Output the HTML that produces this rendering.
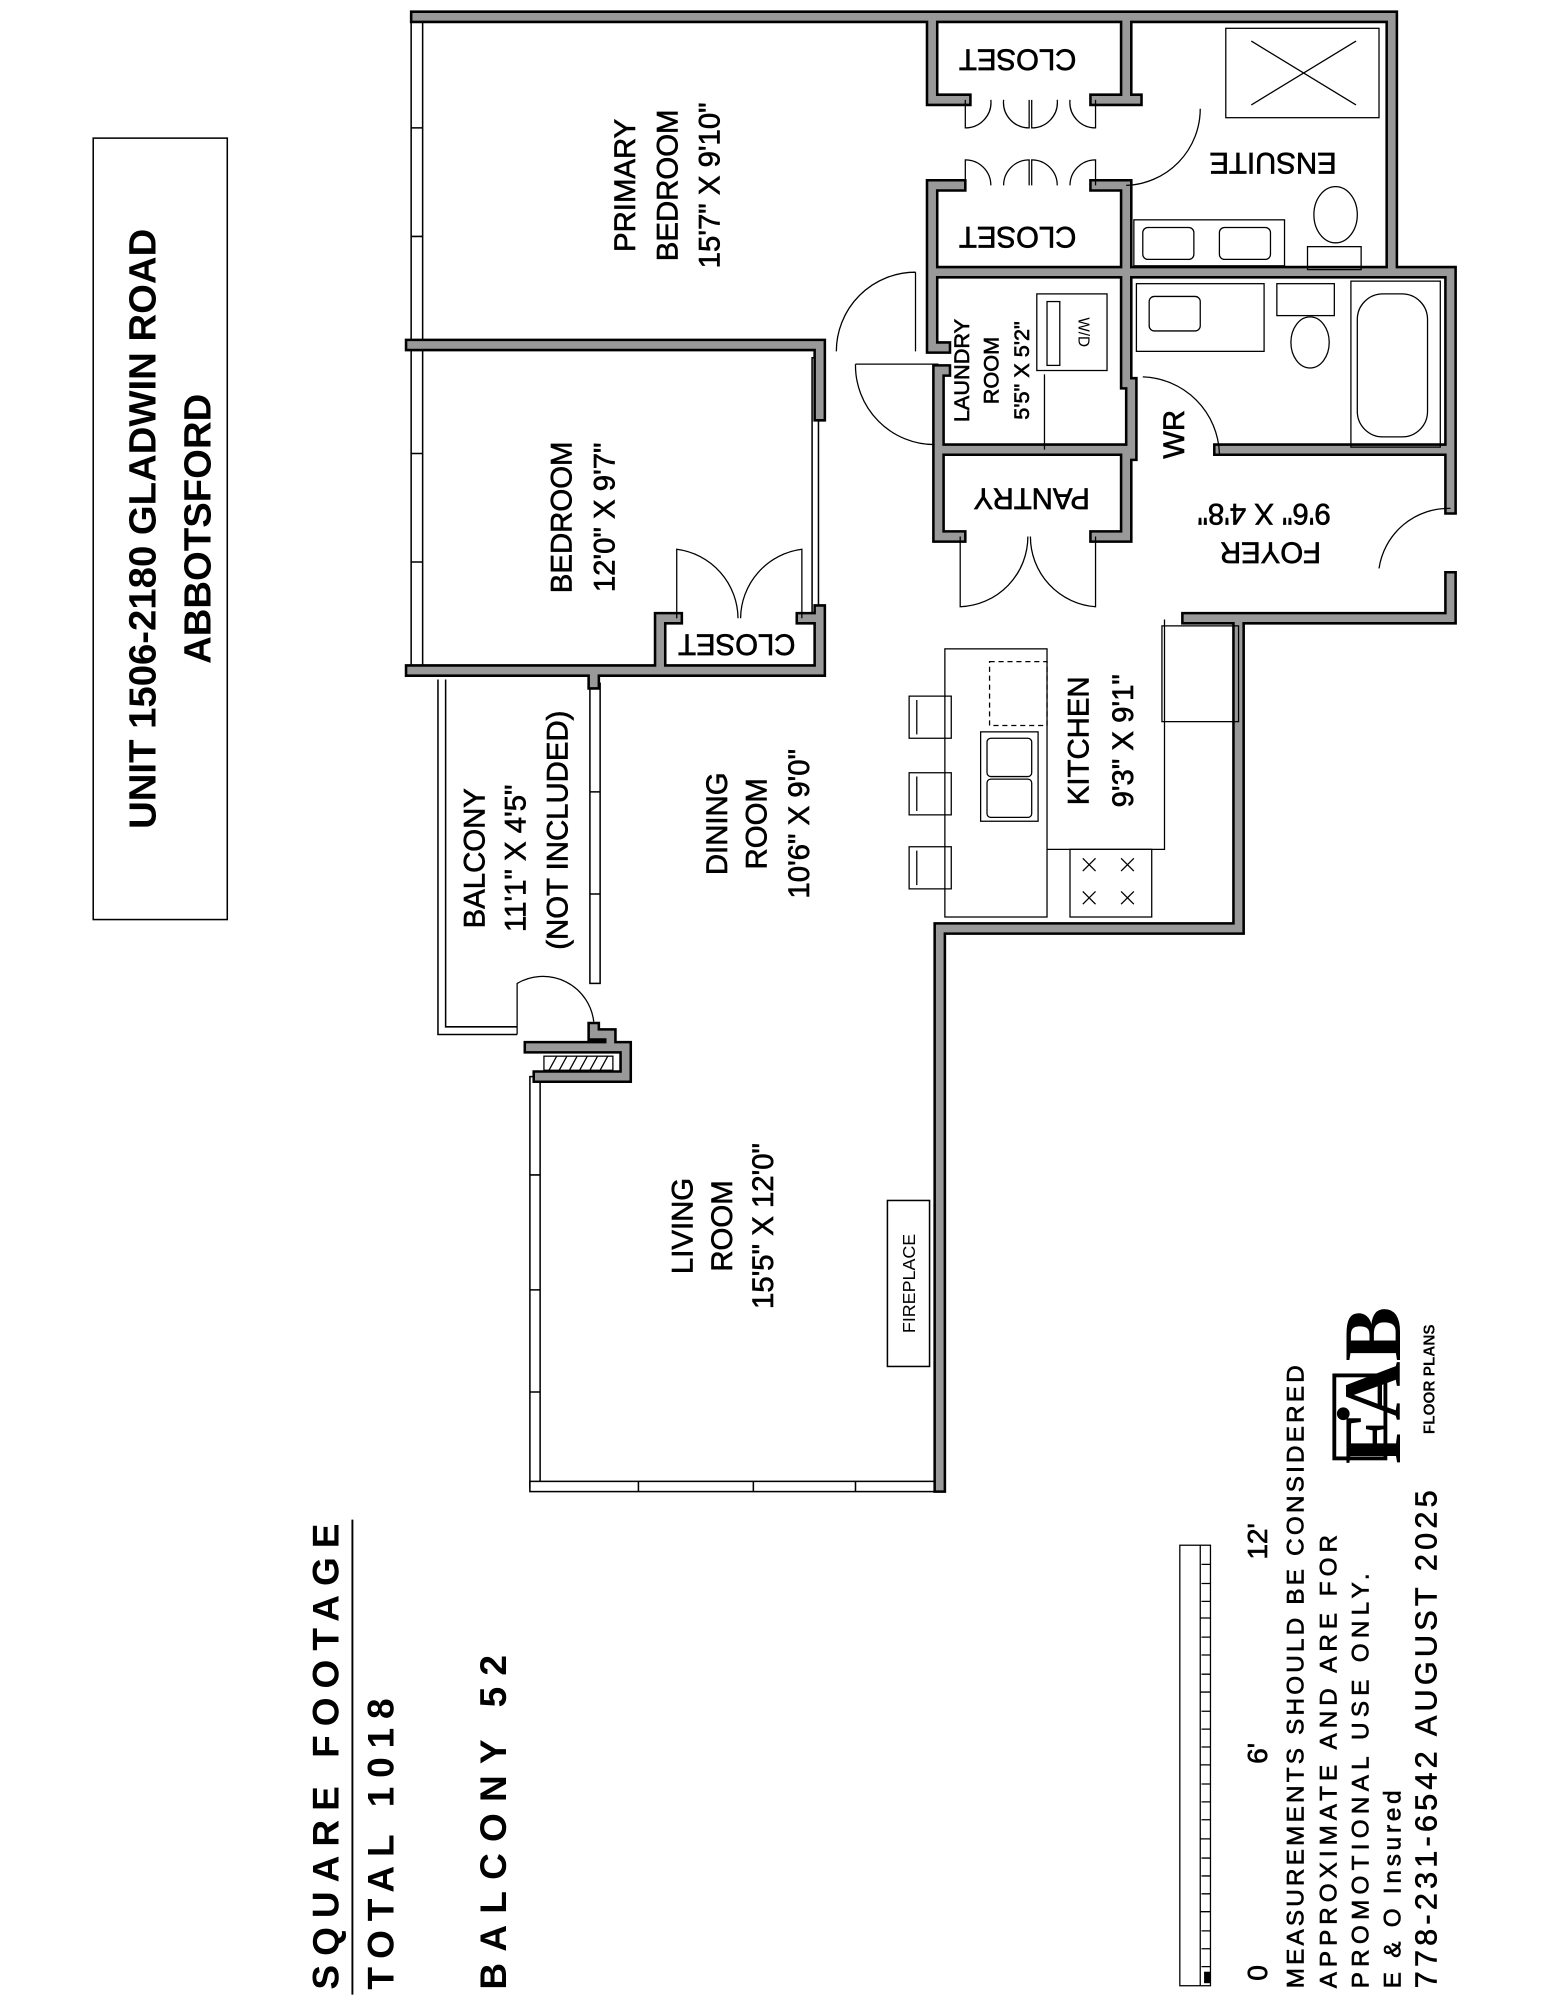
<!DOCTYPE html>
<html><head><meta charset="utf-8"><style>
html,body{margin:0;padding:0;background:#fff}
svg{display:block}
text{font-family:"Liberation Sans",sans-serif;fill:#000}
.lb text{stroke:#000;stroke-width:0.5}
</style></head><body>
<svg width="1545" height="2000" viewBox="0 0 1210 1566" xmlns="http://www.w3.org/2000/svg">
<rect width="1210" height="1566" fill="#fff"/>
<!-- title -->
<rect x="73" y="108" width="105" height="612" fill="none" stroke="#000" stroke-width="1.2"/>
<text transform="translate(112,414) rotate(-90)" text-anchor="middle" dominant-baseline="central" font-size="30" font-weight="bold">UNIT 1506-2180 GLADWIN ROAD</text>
<text transform="translate(155,414) rotate(-90)" text-anchor="middle" dominant-baseline="central" font-size="30" font-weight="bold">ABBOTSFORD</text>
<!-- square footage -->
<text transform="translate(255,1558) rotate(-90)" dominant-baseline="central" font-size="29" font-weight="bold" textLength="365">SQUARE FOOTAGE</text>
<line x1="276" y1="1190" x2="276" y2="1562" stroke="#000" stroke-width="1.5"/>
<text transform="translate(298,1558) rotate(-90)" dominant-baseline="central" font-size="29" font-weight="bold" textLength="228">TOTAL 1018</text>
<text transform="translate(386,1558) rotate(-90)" dominant-baseline="central" font-size="29" font-weight="bold" textLength="262">BALCONY 52</text>
<!-- scale bar -->
<g stroke="#000" stroke-width="1" fill="none">
<rect x="924" y="1210" width="24" height="345"/>
<line x1="940" y1="1210" x2="940" y2="1555"/>
<path d="M940,1267H948M940,1325H948M940,1382H948M940,1440H948M940,1497H948"/>
<path d="M941,1225H948M941,1240H948M941,1254H948M941,1282H948M941,1296H948M941,1311H948M941,1340H948M941,1354H948M941,1368H948M941,1397H948M941,1411H948M941,1425H948M941,1455H948M941,1469H948M941,1483H948M941,1512H948M941,1526H948M941,1540H948"/>
</g>
<rect x="943" y="1544" width="5" height="9" fill="#000"/>
<g class="lb">
<text transform="translate(985,1545) rotate(-90)" text-anchor="middle" dominant-baseline="central" font-size="22">0</text>
<text transform="translate(985,1373) rotate(-90)" text-anchor="middle" dominant-baseline="central" font-size="22">6'</text>
<text transform="translate(985,1207) rotate(-90)" text-anchor="middle" dominant-baseline="central" font-size="22">12'</text>
<g font-size="19">
<text transform="translate(1015,1557) rotate(-90)" dominant-baseline="central" textLength="488">MEASUREMENTS SHOULD BE CONSIDERED</text>
<text transform="translate(1041,1557) rotate(-90)" dominant-baseline="central" textLength="355">APPROXIMATE AND ARE FOR</text>
<text transform="translate(1066,1557) rotate(-90)" dominant-baseline="central" textLength="325">PROMOTIONAL USE ONLY.</text>
<text transform="translate(1091,1557) rotate(-90)" dominant-baseline="central" textLength="155">E &amp; O Insured</text>
</g>
<text transform="translate(1117,1557) rotate(-90)" dominant-baseline="central" font-size="24" textLength="390">778-231-6542   AUGUST 2025</text>
</g>
<!-- logo -->
<rect x="1045" y="1077" width="40" height="65" fill="none" stroke="#000" stroke-width="3"/>
<text transform="translate(1075,1085) rotate(-90)" text-anchor="middle" dominant-baseline="central" font-size="64" style="font-family:'Liberation Serif',serif" font-weight="bold">FAB</text>
<circle cx="1052" cy="1107" r="5" fill="#000"/>
<text transform="translate(1120,1080) rotate(-90)" text-anchor="middle" dominant-baseline="central" font-size="12" font-weight="bold">FLOOR PLANS</text>
<!-- window walls -->
<g fill="#fff" stroke="#000" stroke-width="1.2">
<rect x="322" y="13" width="9" height="512"/>
<rect x="415" y="843" width="8" height="322"/>
<rect x="415" y="1160" width="320" height="8"/>
<rect x="636" y="280" width="5" height="200"/>
<rect x="462" y="535" width="8" height="235"/>
</g>
<g stroke="#000" stroke-width="1.2">
<path d="M322,100H331M322,185H331M322,270H331M322,355H331M322,440H331M415,920H423M415,1010H423M415,1090H423M500,1160V1168M590,1160V1168M670,1160V1168M462,620H470M462,700H470"/>
</g>
<!-- balcony -->
<path d="M343,532V810H405" fill="none" stroke="#000" stroke-width="1.2"/>
<path d="M349,532V804H405" fill="none" stroke="#000" stroke-width="1.2"/>
<path d="M405,810V770A40,40 0 0,1 465,800" fill="none" stroke="#000" stroke-width="1"/>
<!-- walls -->
<g fill="none" stroke-linejoin="miter" stroke-linecap="square">
<g stroke="#000" stroke-width="10">
<path id="w" d="M326,13H1090V213H1136V398M1136,452V484H930M970,484V727H736V1164M322,525H642V478M322,270H642V325M517,525V484H530M628,484H642M465,535V530M465,805V810H478V820M415,820H490V843H422M730,13V78H756M858,78H882V13M882,78H890M730,213H1090M730,145V213M730,145H752M858,145H882V213M730,213V272H740M740,290H735M735,290V352H886M735,352V420H752M858,420H882V352M882,213V300M886,300V356M955,352H1136"/>
</g>
<g stroke="#999" stroke-width="6"><use href="#w"/></g>
</g>
<!-- fireplace -->
<rect x="695" y="940" width="33" height="130" fill="#fff" stroke="#000" stroke-width="1.2"/>
<text transform="translate(712,1005) rotate(-90)" text-anchor="middle" dominant-baseline="central" font-size="14">FIREPLACE</text>
<!-- column hatch -->
<rect x="426" y="827" width="54" height="11" fill="#fff" stroke="#000"/>
<path d="M430,838L436,827M438,838L444,827M446,838L452,827M454,838L460,827M462,838L468,827M470,838L476,827" stroke="#000"/>
<!-- doors -->
<g fill="none" stroke="#000" stroke-width="1">
<path d="M756,78V100A20,20 0 0,0 776,78M806,78V100A20,20 0 0,1 786,78"/>
<path d="M808,78V100A20,20 0 0,0 828,78M858,78V100A20,20 0 0,1 838,78"/>
<path d="M756,145V125A20,20 0 0,1 776,145M806,145V125A20,20 0 0,0 786,145"/>
<path d="M808,145V125A20,20 0 0,1 828,145M858,145V125A20,20 0 0,0 838,145"/>
<path d="M882,145A60,60 0 0,0 940,85"/>
<path d="M717,213V275M717,213A62,62 0 0,0 655,275"/>
<path d="M670,285H735M670,285A62,62 0 0,0 732,348"/>
<path d="M530,484V430A55,55 0 0,1 578,484M628,484V430A55,55 0 0,0 580,484"/>
<path d="M752,420V475A55,55 0 0,0 805,420M858,420V475A55,55 0 0,1 807,420"/>
<path d="M895,295A62,62 0 0,1 955,355"/>
<path d="M1136,398A55,55 0 0,0 1080,445"/>
</g>
<!-- fixtures -->
<g fill="none" stroke="#000" stroke-width="1">
<rect x="960" y="22" width="120" height="70"/>
<path d="M980,32L1062,82M980,82L1062,32"/>
<rect x="888" y="172" width="118" height="36"/>
<rect x="895" y="178" width="40" height="25" rx="4"/>
<rect x="955" y="178" width="40" height="25" rx="4"/>
<ellipse cx="1046" cy="168" rx="17" ry="22"/>
<rect x="1024" y="193" width="42" height="18"/>
<rect x="890" y="222" width="100" height="53"/>
<rect x="900" y="232" width="40" height="27" rx="4"/>
<rect x="1000" y="222" width="45" height="25"/>
<ellipse cx="1026" cy="268" rx="15" ry="20"/>
<rect x="1058" y="220" width="70" height="130"/>
<rect x="1063" y="230" width="55" height="112" rx="20"/>
<rect x="812" y="230" width="55" height="60"/>
<rect x="820" y="236" width="10" height="50"/>
<text x="0" y="0" transform="translate(848,260) rotate(90)" text-anchor="middle" dominant-baseline="central" font-size="12" stroke="none" fill="#000">W/D</text>
<line x1="818" y1="293" x2="818" y2="352"/>
<rect x="740" y="508" width="80" height="210"/>
<rect x="775" y="518" width="45" height="50" stroke-dasharray="4,3"/>
<rect x="768" y="573" width="45" height="70"/>
<rect x="773" y="578" width="35" height="30" rx="3"/>
<rect x="773" y="610" width="35" height="30" rx="3"/>
<path d="M820,665H912V485"/>
<rect x="838" y="665" width="64" height="53"/>
<path d="M848,672l10,10m-10,0l10,-10M878,672l10,10m-10,0l10,-10M848,698l10,10m-10,0l10,-10M878,698l10,10m-10,0l10,-10"/>
<rect x="910" y="490" width="60" height="75"/>
<path d="M712,545H745V578H712ZM712,605H745V638H712ZM712,663H745V696H712Z"/>
<path d="M718,548V575M718,608V635M718,666V693"/>
</g>
<!-- room labels -->
<g class="lb" font-size="23" text-anchor="middle" dominant-baseline="central">
<text transform="translate(490,145) rotate(-90)">PRIMARY</text>
<text transform="translate(523,145) rotate(-90)">BEDROOM</text>
<text transform="translate(556,145) rotate(-90)">15'7" X 9'10"</text>
<text transform="translate(440,405) rotate(-90)">BEDROOM</text>
<text transform="translate(474,405) rotate(-90)">12'0" X 9'7"</text>
<text transform="translate(797,46) rotate(180)">CLOSET</text>
<text transform="translate(797,185) rotate(180)">CLOSET</text>
<text transform="translate(577,504) rotate(180)">CLOSET</text>
<text transform="translate(997,127) rotate(180)">ENSUITE</text>
<text transform="translate(808,390) rotate(180)">PANTRY</text>
<text transform="translate(995,432) rotate(180)">FOYER</text>
<text transform="translate(990,402) rotate(180)">9'6" X 4'8"</text>
<text transform="translate(920,340) rotate(-90)">WR</text>
<text transform="translate(845,580) rotate(-90)">KITCHEN</text>
<text transform="translate(880,580) rotate(-90)">9'3" X 9'1"</text>
<text transform="translate(562,645) rotate(-90)">DINING</text>
<text transform="translate(593,645) rotate(-90)">ROOM</text>
<text transform="translate(626,645) rotate(-90)">10'6" X 9'0"</text>
<text transform="translate(372,672) rotate(-90)">BALCONY</text>
<text transform="translate(404,672) rotate(-90)">11'1" X 4'5"</text>
<text transform="translate(437,650) rotate(-90)">(NOT INCLUDED)</text>
<text transform="translate(535,960) rotate(-90)">LIVING</text>
<text transform="translate(566,960) rotate(-90)">ROOM</text>
<text transform="translate(598,960) rotate(-90)">15'5" X 12'0"</text>
</g>
<g class="lb" font-size="17" text-anchor="middle" dominant-baseline="central">
<text transform="translate(753,290) rotate(-90)">LAUNDRY</text>
<text transform="translate(776,290) rotate(-90)">ROOM</text>
<text transform="translate(800,290) rotate(-90)">5'5" X 5'2"</text>
</g>
</svg>
</body></html>
